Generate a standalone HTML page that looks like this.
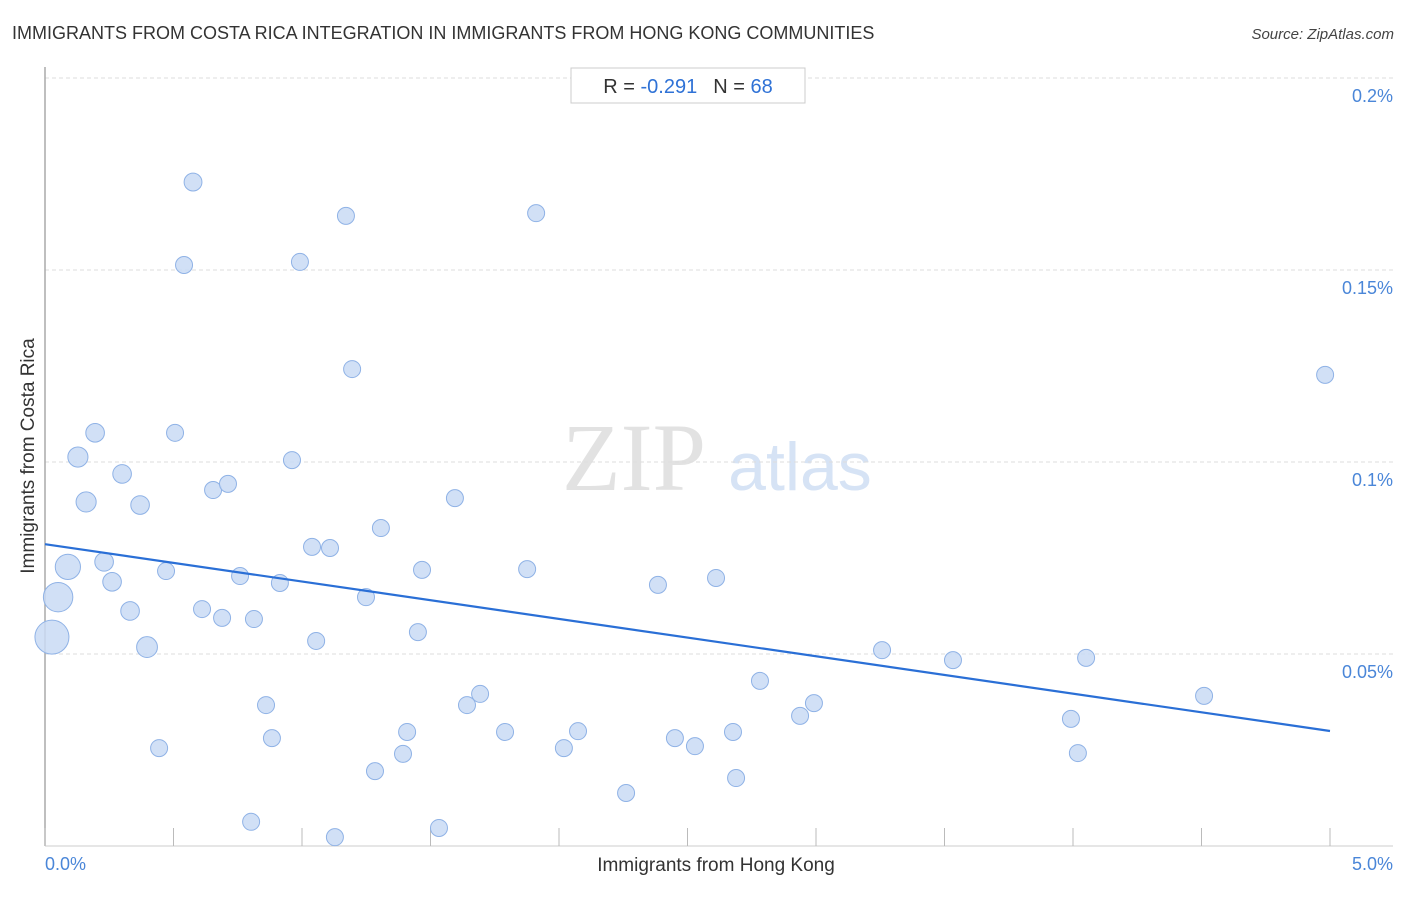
<!DOCTYPE html>
<html><head><meta charset="utf-8"><style>
body{margin:0;background:#fff;width:1406px;height:892px;overflow:hidden;font-family:"Liberation Sans",sans-serif}
</style></head><body>
<svg id="chart" width="1406" height="892" xmlns="http://www.w3.org/2000/svg">
<text x="12" y="39" font-size="18" fill="#333">IMMIGRANTS FROM COSTA RICA INTEGRATION IN IMMIGRANTS FROM HONG KONG COMMUNITIES</text>
<text x="1394" y="39" font-size="15" font-style="italic" fill="#444" text-anchor="end">Source: ZipAtlas.com</text>
<g>
<text x="634" y="490" font-family="Liberation Serif,serif" font-size="96" fill="#e2e2e2" text-anchor="middle">ZIP</text>
<text x="800" y="490" font-size="68" fill="#d6e3f5" text-anchor="middle">atlas</text>
</g>
<g id="grid"></g><g id="axes"></g><g id="points"></g><g id="trend"></g>
<text x="716" y="871" font-size="19" fill="#333" text-anchor="middle">Immigrants from Hong Kong</text>
<text transform="translate(34,456) rotate(-90)" font-size="19" fill="#333" text-anchor="middle">Immigrants from Costa Rica</text>
<g>
<rect x="571" y="68" width="234" height="35" fill="#fff" stroke="#ccc"/>
<text x="688" y="93" font-size="20" text-anchor="middle"><tspan fill="#333">R = </tspan><tspan fill="#2f72d6">-0.291</tspan><tspan fill="#333" dx="16">N = </tspan><tspan fill="#2f72d6">68</tspan></text>
</g>
</svg>
<script>
const xs=[0.027,0.051,0.089,0.128,0.160,0.195,0.230,0.261,0.300,0.331,0.370,0.397,0.444,0.471,0.506,0.541,0.576,0.611,0.654,0.689,0.712,0.759,0.802,0.813,0.860,0.883,0.914,0.961,0.992,1.039,1.055,1.109,1.128,1.171,1.195,1.249,1.284,1.307,1.393,1.409,1.451,1.467,1.533,1.595,1.642,1.693,1.790,1.876,1.911,2.019,2.074,2.261,2.385,2.451,2.529,2.611,2.677,2.689,2.782,2.938,2.992,3.257,3.533,3.992,4.019,4.051,4.510,4.981];
const ys=[0.0544,0.0648,0.0727,0.1013,0.0896,0.1076,0.0740,0.0688,0.0969,0.0612,0.0888,0.0518,0.0255,0.0716,0.1076,0.1513,0.1729,0.0617,0.0927,0.0594,0.0943,0.0703,0.0063,0.0591,0.0367,0.0281,0.0685,0.1005,0.1521,0.0779,0.0534,0.0776,0.0023,0.1641,0.1242,0.0648,0.0195,0.0828,0.0240,0.0297,0.0557,0.0719,0.0047,0.0906,0.0367,0.0396,0.0297,0.0721,0.1648,0.0255,0.0299,0.0138,0.0680,0.0281,0.0260,0.0698,0.0297,0.0177,0.0430,0.0339,0.0372,0.0510,0.0484,0.0331,0.0242,0.0490,0.0391,0.1227];
const weights=[4,3,2.2,1.4,1.4,1.2,1.2,1.2,1.2,1.2,1.2,1.5,1,1,1,1,1.1,1,1,1,1,1,1,1,1,1,1,1,1,1,1,1,1,1,1,1,1,1,1,1,1,1,1,1,1,1,1,1,1,1,1,1,1,1,1,1,1,1,1,1,1,1,1,1,1,1,1,1];
const trendX=[0,5];
const trendY=[0.0786,0.02995];
const yTicks=[0.05,0.1,0.15,0.2];
const yTickLabels=["0.05%","0.1%","0.15%","0.2%"];
const xTicks=[0,0.5,1,1.5,2,2.5,3,3.5,4,4.5,5];
const X=v=>45+v/5*1285, Y=v=>846-v/0.05*192;
const NS="http://www.w3.org/2000/svg";
function mk(p,t,a){const e=document.createElementNS(NS,t);for(const k in a)e.setAttribute(k,a[k]);p.appendChild(e);return e;}
const grid=document.getElementById('grid'),axes=document.getElementById('axes'),pts=document.getElementById('points'),tr=document.getElementById('trend');
yTicks.forEach((v,i)=>{
 const l=mk(grid,'line',{x1:45,x2:1393,y1:Y(v),y2:Y(v),stroke:'#ddd','stroke-dasharray':'4,3'});
 
 
 const t=mk(grid,'text',{x:1393,y:Y(v)+24,'font-size':18,fill:'#4a86d8','text-anchor':'end'});
 t.textContent=yTickLabels[i];
 
 
});
const la=mk(axes,'line',{x1:45,x2:45,y1:67,y2:846,stroke:'#aaa','stroke-width':1.5});


const ba=mk(axes,'line',{x1:45,x2:1393,y1:846,y2:846,stroke:'#ccc'});


xTicks.forEach(v=>{
 const t=mk(axes,'line',{x1:X(v),x2:X(v),y1:828,y2:846,stroke:'#bbb'});
 
 
});
const xl0=mk(axes,'text',{x:45,y:870,'font-size':18,fill:'#4a86d8'});xl0.textContent='0.0%';


const xl1=mk(axes,'text',{x:1393,y:870,'font-size':18,fill:'#4a86d8','text-anchor':'end'});xl1.textContent='5.0%';


xs.forEach((v,i)=>{
 const c=mk(pts,'circle',{cx:X(v),cy:Y(ys[i]),r:8.5*Math.sqrt(weights[i]),fill:'#c9dbf5','fill-opacity':0.85,stroke:'#8fb2e6','stroke-width':1});
 
 
});
const tl=mk(tr,'line',{x1:X(trendX[0]),y1:Y(trendY[0]),x2:X(trendX[1]),y2:Y(trendY[1]),stroke:'#2a6fd6','stroke-width':2.2});


</script>
</body></html>
